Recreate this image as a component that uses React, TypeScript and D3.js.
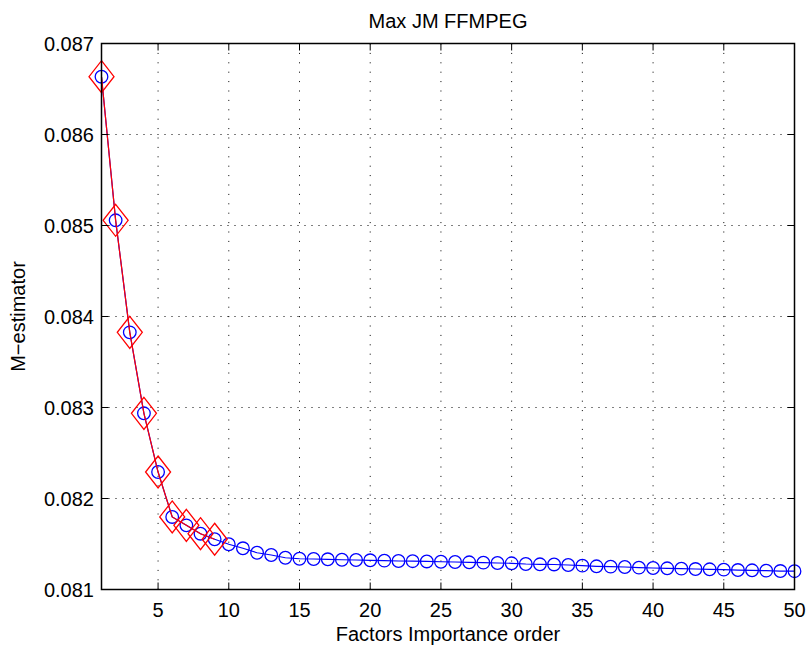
import React from "react";
import * as d3 from "d3";

const title = "Max JM FFMPEG";
const xLabel = "Factors Importance order";
const yLabel = "M\u2212estimator";

const order = d3.range(1, 51);
const mEstimator = [
  0.086635, 0.085057, 0.083826, 0.082936, 0.082291, 0.081797, 0.081705, 0.081613, 0.081552, 0.081497,
  0.081453, 0.081404, 0.081379, 0.081349, 0.081338, 0.081335, 0.081332, 0.081327, 0.081324, 0.081321,
  0.081317, 0.081313, 0.081311, 0.081308, 0.081305, 0.081302, 0.081299, 0.081295, 0.081291, 0.081288,
  0.08128, 0.081277, 0.081275, 0.081269, 0.081262, 0.081255, 0.081251, 0.081247, 0.08124, 0.081236,
  0.081233, 0.081229, 0.081225, 0.081222, 0.081218, 0.081214, 0.081211, 0.081207, 0.081203, 0.081201,
];
const selectedCount = 9;
const xTicks = [5, 10, 15, 20, 25, 30, 35, 40, 45, 50];
const yTicks = [0.081, 0.082, 0.083, 0.084, 0.085, 0.086, 0.087];

export default function App() {
  const W = 810, H = 650;
  const left = 101.5, right = 794.5, top = 43.5, bottom = 589.5;
  const x = d3.scaleLinear().domain([1, 50]).range([left, right]);
  const y = d3.scaleLinear().domain([0.081, 0.087]).range([bottom, top]);
  const font = "'Liberation Sans', Arial, Helvetica, sans-serif";
  const tick = 7;

  const pts = order.map((o, i) => ({ o, v: mEstimator[i] }));
  const sel = pts.slice(0, selectedCount);
  const line = d3.line<{ o: number; v: number }>().x(d => x(d.o)).y(d => y(d.v));
  const diamond = (cx: number, cy: number) => {
    const hw = 12.5, hh = 16;
    return `M${cx},${cy - hh}L${cx + hw},${cy}L${cx},${cy + hh}L${cx - hw},${cy}Z`;
  };

  return (
    <svg width={W} height={H} style={{ position: "absolute", left: 0, top: 0, background: "#fff" }} fontFamily={font}>
      <rect x={0} y={0} width={W} height={H} fill="#fff" />
      {/* grid */}
      <g stroke="#000" strokeWidth={1}>
        {xTicks.filter(t => t < 50).map(t => (
          <line key={"gx" + t} x1={x(t)} x2={x(t)} y1={top} y2={bottom} strokeDasharray="1,8.4" />
        ))}
        {yTicks.filter(t => t > 0.081 && t < 0.087).map(t => (
          <line key={"gy" + t} x1={left} x2={right} y1={y(t)} y2={y(t)} strokeDasharray="1,6" />
        ))}
      </g>
      {/* data */}
      <path d={line(pts) || ""} fill="none" stroke="#0000ff" strokeWidth={1.2} />
      {pts.map(p => (
        <circle key={"c" + p.o} cx={x(p.o)} cy={y(p.v)} r={6.3} fill="none" stroke="#0000ff" strokeWidth={1.3} />
      ))}
      <path d={line(sel) || ""} fill="none" stroke="#ff0000" strokeWidth={1.2} />
      {sel.map(p => (
        <path key={"d" + p.o} d={diamond(x(p.o), y(p.v))} fill="none" stroke="#ff0000" strokeWidth={1.3} />
      ))}
      {/* box */}
      <rect x={left} y={top} width={right - left} height={bottom - top} fill="none" stroke="#000" strokeWidth={1.5} />
      {/* ticks */}
      <g stroke="#000" strokeWidth={1}>
        {xTicks.map(t => (
          <g key={"tx" + t}>
            <line x1={x(t)} x2={x(t)} y1={bottom} y2={bottom - tick} />
            <line x1={x(t)} x2={x(t)} y1={top} y2={top + tick} />
          </g>
        ))}
        {yTicks.map(t => (
          <g key={"ty" + t}>
            <line x1={left} x2={left + tick} y1={y(t)} y2={y(t)} />
            <line x1={right} x2={right - tick} y1={y(t)} y2={y(t)} />
          </g>
        ))}
      </g>
      {/* tick labels */}
      <g fontSize={20} fill="#000">
        {xTicks.map(t => (
          <text key={"lx" + t} x={x(t)} y={616.5} textAnchor="middle">{t}</text>
        ))}
        {yTicks.map(t => (
          <text key={"ly" + t} x={94} y={y(t) + 7.2} textAnchor="end">{d3.format(".3f")(t)}</text>
        ))}
      </g>
      <text x={(left + right) / 2} y={27.5} textAnchor="middle" fontSize={20} fill="#000">{title}</text>
      <text x={(left + right) / 2} y={641} textAnchor="middle" fontSize={20} fill="#000">{xLabel}</text>
      <text transform={`translate(25,${(top + bottom) / 2}) rotate(-90)`} textAnchor="middle" fontSize={20} fill="#000">{yLabel}</text>
    </svg>
  );
}
